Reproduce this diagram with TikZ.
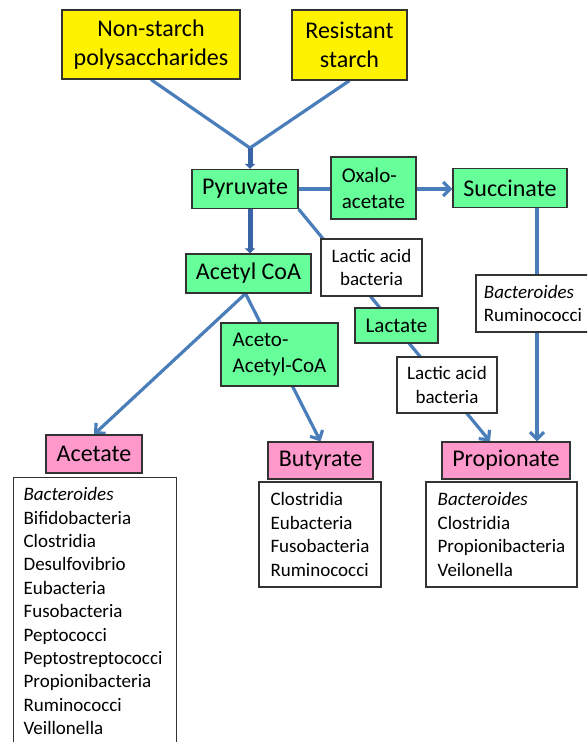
\documentclass[tikz,border=0pt]{standalone}
\usepackage{fontspec}
\setmainfont{Carlito}
\usetikzlibrary{arrows.meta,backgrounds}

\definecolor{flowblue}{HTML}{4A7EBB}
\definecolor{trunkblue}{HTML}{3A63A6}
\definecolor{mintgreen}{HTML}{66FF99}
\definecolor{acidpink}{HTML}{FF99CC}

\begin{document}
\begin{tikzpicture}[
  x=1pt,
  y=-1pt,
  source/.style={
    rectangle,
    draw=black!80,
    fill=yellow,
    line width=1.2pt,
    inner sep=0pt,
    align=center,
    font=\fontsize{24}{29.5}\selectfont
  },
  metabolite/.style={
    rectangle,
    draw=black!80,
    fill=mintgreen,
    line width=1.2pt,
    inner sep=0pt,
    font=\fontsize{24}{29}\selectfont
  },
  smallmet/.style={
    metabolite,
    align=left,
    font=\fontsize{21}{26}\selectfont
  },
  product/.style={
    rectangle,
    draw=black!80,
    fill=acidpink,
    line width=1.2pt,
    inner sep=0pt,
    font=\fontsize{24}{29}\selectfont
  },
  microbes/.style={
    rectangle,
    draw=black!80,
    fill=white,
    line width=1.2pt,
    inner sep=0pt,
    font=\fontsize{19}{23.4}\selectfont
  },
  flow/.style={draw=flowblue, line width=3.2pt},
  trunk/.style={draw=trunkblue, line width=5pt},
  tip/.style={-{Straight Barb[length=7pt,width=14pt]}}
]

\clip (0,0) rectangle (587,742);

\node[source, minimum width=178, minimum height=69] (nsp) at (151,44.5)
  {Non-starch\\polysaccharides};
\node[source, minimum width=115, minimum height=70] (rs) at (349.5,45)
  {Resistant\\starch};
\coordinate (j) at (250,148);

\node[metabolite, minimum width=106, minimum height=39] (pyr) at (245,189) {Pyruvate};
\node[smallmet, minimum width=85, minimum height=62] (oxa) at (373.5,188) {Oxalo-\\acetate};
\node[metabolite, minimum width=114, minimum height=39] (suc) at (510,188) {Succinate};
\node[metabolite, minimum width=125, minimum height=39] (acoa) at (248.5,273.5) {Acetyl CoA};
\node[smallmet, minimum width=117, minimum height=63] (aaco) at (279.5,354.5) {Aceto-\\Acetyl-CoA};
\node[smallmet, align=center, minimum width=83, minimum height=35] (lac) at (396.5,325.5) {Lactate};

\node[microbes, align=center, minimum width=101, minimum height=57] (lab1) at (371.5,267.5)
  {Lactic acid\\bacteria};
\node[microbes, align=center, minimum width=100, minimum height=56] (lab2) at (447,385)
  {Lactic acid\\bacteria};
\node[microbes, align=left, minimum width=114, minimum height=57] (bru) at (533,303.5)
  {\textit{Bacteroides}\\Ruminococci};

\node[product, minimum width=96, minimum height=38] (ace) at (94,454) {Acetate};
\node[product, minimum width=105, minimum height=37] (but) at (320.5,460.5) {Butyrate};
\node[product, minimum width=128, minimum height=37] (pro) at (506,460.5) {Propionate};

% Organisms producing each acid.
\node[microbes, anchor=north west, align=left, text width=143, inner xsep=10, inner ysep=10]
  (acelist) at (13,477)
  {\textit{Bacteroides}\\Bifidobacteria\\Clostridia\\Desulfovibrio\\Eubacteria\\
   Fusobacteria\\Peptococci\\Peptostreptococci\\Propionibacteria\\Ruminococci\\Veillonella};
\node[microbes, align=left, minimum width=122, minimum height=105] (butlist) at (320,534.5)
  {Clostridia\\Eubacteria\\Fusobacteria\\Ruminococci};
\node[microbes, align=left, minimum width=151, minimum height=105] (prolist) at (501.5,534.5)
  {\textit{Bacteroides}\\Clostridia\\Propionibacteria\\Veilonella};

\begin{scope}[on background layer]
  \draw[flow] (nsp.south) -- (j) -- (rs.south);
  \draw[trunk, -{Triangle[length=5pt,width=10pt]}] (j) -- (j |- pyr.north);
  \draw[trunk, -{Triangle[length=5pt,width=10pt]}] (j |- pyr.south) -- (j |- acoa.north);
  \draw[flow, tip] (pyr.east) -- (pyr.east -| suc.west);
  \draw[flow, tip] ([xshift=27]suc.south) -- ([xshift=27]suc.south |- pro.north);
  \draw[flow, tip] (pyr.south east) -- ([xshift=-16]pro.north);
  \draw[flow, tip] ([xshift=-3]acoa.south) -- (ace.north);
  \draw[flow, tip] ([xshift=-3]acoa.south) -- (but.north);
\end{scope}

\end{tikzpicture}
\end{document}
